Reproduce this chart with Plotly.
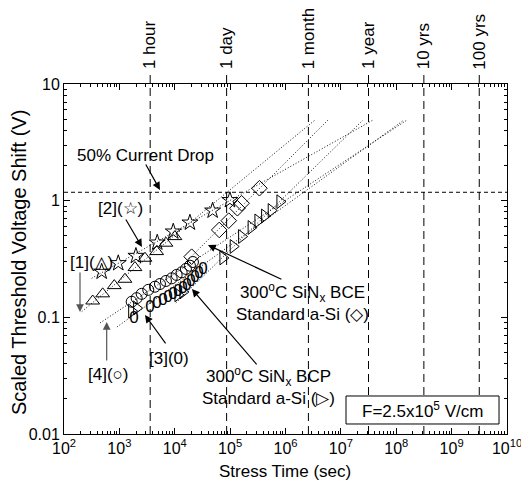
import numpy as np
import plotly.graph_objects as go

# ---------------- data ----------------
# [2] stars
star_t = [479, 955, 1990, 4830, 9400, 18800, 48300, 99100]
star_v = [0.246, 0.291, 0.336, 0.437, 0.543, 0.648, 0.821, 1.01]
# [1] up triangles
tri_t = [330, 500, 809, 1262, 1912, 2898, 4713, 6936, 10080]
tri_v = [0.138, 0.159, 0.187, 0.212, 0.267, 0.321, 0.366, 0.432, 0.492]
# [4] circles
circ_t = [1667, 2051, 2526, 3325, 4391, 5406, 6936, 8790, 10820, 13320, 15930, 18800, 21300]
circ_v = [0.136, 0.146, 0.159, 0.172, 0.183, 0.193, 0.205, 0.216, 0.231, 0.243, 0.260, 0.277, 0.298]
# [3] ovals ("0")
oval_t = [1834, 3567, 4771, 6124, 7540, 9280, 11420, 14060, 16600, 19610, 23150, 27340, 32300]
oval_v = [0.0969, 0.120, 0.130, 0.138, 0.147, 0.156, 0.165, 0.175, 0.186, 0.201, 0.218, 0.236, 0.255]
# BCP right triangles
bcp_t = [1667, 2051, 11420, 14060, 74130, 113700, 161300, 239300, 317700, 419500, 552100, 792500]
bcp_v = [0.113, 0.120, 0.156, 0.165, 0.323, 0.405, 0.493, 0.589, 0.670, 0.739, 0.824, 0.980]
# BCE diamonds
bce_t = [20180, 63560, 94400, 135400, 161300, 338000]
bce_v = [0.331, 0.561, 0.674, 0.861, 0.950, 1.278]

# dotted power-law fit lines (start / end points)
fit_t0 = [316, 209, 15300, 10500, 905, 447]
fit_v0 = [0.216, 0.112, 0.293, 0.133, 0.0827, 0.0895]
fit_t1 = [3.78e7, 3.39e6, 5.83e6, 2.50e7, 1.37e8, 1.55e8]
fit_v1 = [4.9, 4.9, 4.9, 4.9, 4.9, 4.9]

# time markers
time_labels = ["1 hour", "1 day", "1 month", "1 year", "10 yrs", "100 yrs"]
time_secs = [3600, 86400, 2.592e6, 3.1536e7, 3.1536e8, 3.1536e9]

current_drop_level = 1.18

x_tick_vals = [1e2, 1e3, 1e4, 1e5, 1e6, 1e7, 1e8, 1e9, 1e10]
x_tick_text = ["10<sup>2</sup>", "10<sup>3</sup>", "10<sup>4</sup>", "10<sup>5</sup>", "10<sup>6</sup>",
               "10<sup>7</sup>", "10<sup>8</sup>", "10<sup>9</sup>", "10<sup>10</sup>"]
y_tick_vals = [0.01, 0.1, 1, 10]
y_tick_text = ["0.01", "0.1", "1", "10"]

FONT = "Arial, 'Liberation Sans', Helvetica, sans-serif"

# the page body has an 8px default margin: the figure is sized so that the
# plot area lands at page pixels x 64..507, y 84..434
PAGE_OFF = 8

fig = go.Figure()

for t0, v0, t1, v1 in zip(fit_t0, fit_v0, fit_t1, fit_v1):
    fig.add_trace(go.Scatter(x=[t0, t1], y=[v0, v1], mode="lines",
                             line=dict(color="#111111", width=1, dash="1px,2px"),
                             hoverinfo="skip", showlegend=False))

def mk(symbol, size):
    return dict(symbol=symbol, size=size, color="black", line=dict(color="black", width=1))

fig.add_trace(go.Scatter(x=star_t, y=star_v, mode="markers",
                         marker=mk("star-open", 12), showlegend=False))
fig.add_trace(go.Scatter(x=tri_t, y=tri_v, mode="markers",
                         marker=mk("triangle-up-open", 12), showlegend=False))
fig.add_trace(go.Scatter(x=circ_t, y=circ_v, mode="markers",
                         marker=mk("circle-open", 11), showlegend=False))
fig.add_trace(go.Scatter(x=oval_t, y=oval_v, mode="text", text=["0"] * len(oval_t),
                         textposition="middle center",
                         textfont=dict(family=FONT, size=17, color="black"), showlegend=False))
fig.add_trace(go.Scatter(x=bcp_t, y=bcp_v, mode="markers",
                         marker=mk("triangle-right-open", 12), showlegend=False))
fig.add_trace(go.Scatter(x=bce_t, y=bce_v, mode="markers",
                         marker=mk("diamond-open", 12), showlegend=False))

shapes = []
for ts in time_secs:
    shapes.append(dict(type="line", xref="x", yref="paper", x0=ts, x1=ts, y0=0, y1=1.034,
                       line=dict(color="black", width=1, dash="8px,5px")))
shapes.append(dict(type="line", xref="paper", yref="y", x0=0, x1=1,
                   y0=current_drop_level, y1=current_drop_level,
                   line=dict(color="black", width=1, dash="4px,3px")))
# F box
shapes.append(dict(type="rect", xref="paper", yref="paper", x0=0.6366, x1=0.982, y0=0.0286, y1=0.1086,
                   line=dict(color="black", width=1), fillcolor="white"))

annotations = []
for lab, ts in zip(time_labels, time_secs):
    annotations.append(dict(x=np.log10(ts), y=1.036, xref="x", yref="paper", text=lab,
                            textangle=-90, showarrow=False, xanchor="center", yanchor="bottom",
                            font=dict(family=FONT, size=17, color="black")))

def arrow(tail_lx, tail_ly, tip_lx, tip_ly, color="black"):
    return dict(x=tip_lx, y=tip_ly, ax=tail_lx, ay=tail_ly, xref="x", yref="y", axref="x", ayref="y",
                text="", showarrow=True, arrowhead=2, arrowsize=1.3, arrowwidth=1.2, arrowcolor=color,
                standoff=0, startstandoff=0)

annotations += [
    arrow(3.462, 0.323, 3.733, 0.092),
    arrow(3.101, -0.148, 3.408, -0.397),
    arrow(2.289, -0.602, 2.289, -0.954, "#555555"),
    arrow(2.771, -1.382, 2.771, -1.039, "#555555"),
    arrow(3.854, -1.236, 3.462, -0.979),
    arrow(5.953, -0.680, 4.599, -0.380),
    arrow(5.502, -1.416, 4.310, -0.757),
]

def label(px, py, text, size=17, align="center", angle=0):
    return dict(x=(px - 64) / 443, y=(434 - py) / 350, xref="paper", yref="paper", text=text,
                showarrow=False, xanchor="center", yanchor="middle", align=align, textangle=angle,
                font=dict(family=FONT, size=size, color="black"))

annotations += [
    label(145, 155, "50% Current Drop"),
    label(120, 208, "[2](☆)"),
    label(91, 262, "[1](△)"),
    label(108, 374, "[4](○)"),
    label(169, 358, "[3](0)"),
    label(302, 302, "300<sup>o</sup>C SiN<sub>x</sub> BCE<br>Standard a-Si (◇)"),
    label(268, 386, "300<sup>o</sup>C SiN<sub>x</sub> BCP<br>Standard a-Si (▷)"),
    label(422, 410, "F=2.5x10<sup>5</sup> V/cm"),
    # axis titles
    label(285, 471, "Stress Time (sec)", size=17),
    label(19, 263, "Scaled Threshold Voltage Shift (V)", size=20, angle=-90),
]

axis_common = dict(type="log", showline=True, linecolor="black", linewidth=1, mirror="ticks",
                   ticks="inside", ticklen=6, tickwidth=1, tickcolor="black", showgrid=False,
                   zeroline=False, automargin=False,
                   tickfont=dict(family=FONT, size=16, color="black"),
                   minor=dict(ticks="inside", ticklen=3, tickwidth=1, tickcolor="black",
                              dtick="D1", showgrid=False))

fig.update_layout(
    template="none",
    width=529 - PAGE_OFF, height=483 - PAGE_OFF,
    margin=dict(l=64 - PAGE_OFF, r=22, t=84 - PAGE_OFF, b=49),
    paper_bgcolor="white", plot_bgcolor="white",
    font=dict(family=FONT, color="black"),
    xaxis=dict(range=[2, 10], tickvals=x_tick_vals, ticktext=x_tick_text, **axis_common),
    yaxis=dict(range=[-2, 1], tickvals=y_tick_vals, ticktext=y_tick_text, **axis_common),
    shapes=shapes,
    annotations=annotations,
)

fig.write_html("out.html")
